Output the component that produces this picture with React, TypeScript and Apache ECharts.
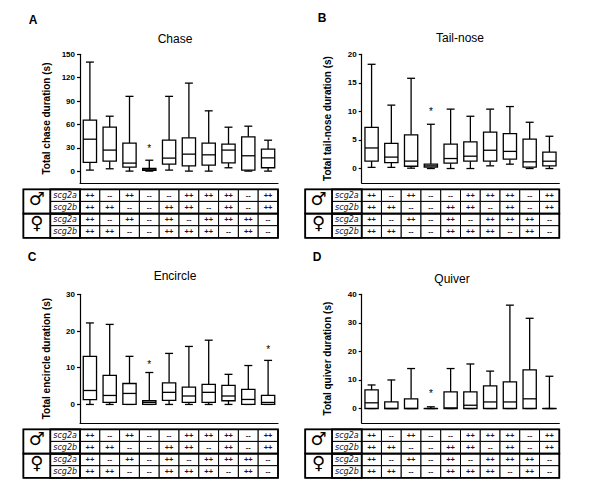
import { useEffect, useRef } from 'react';
import * as echarts from 'echarts';

// 10 genotype groups, order as in the table under each panel
const groups = ['g1', 'g2', 'g3', 'g4', 'g5', 'g6', 'g7', 'g8', 'g9', 'g10'];

// box values: [min, q1, median, q3, max]
const chaseBoxes = [
  [1.3, 11.1, 41, 65.4, 140],
  [3, 12.8, 27, 56.4, 70.5],
  [0, 5.1, 10.3, 35.9, 96],
  [0, 0.9, 1.7, 3.4, 14],
  [1.3, 9, 16.7, 39.7, 96],
  [0, 6.8, 21.8, 42.7, 113],
  [0, 7.7, 20.9, 35.9, 77.4],
  [4.3, 10.7, 27, 34.6, 56.4],
  [0, 1.3, 19.7, 44, 57.7],
  [0, 4.3, 17, 28.2, 39.7],
];
const tailNoseBoxes = [
  [0.2, 1.3, 3.6, 7.2, 18.25],
  [0.2, 1.05, 2.0, 4.4, 11.1],
  [0.06, 0.4, 1.3, 5.9, 15.8],
  [0, 0.23, 0.47, 0.76, 7.75],
  [0, 0.93, 1.75, 4.26, 10.4],
  [0, 1.28, 2.16, 4.66, 9.15],
  [0.47, 1.28, 3.2, 6.36, 10.4],
  [0.76, 1.63, 3.0, 6.1, 10.85],
  [0, 0.23, 1.17, 5.13, 8.1],
  [0, 0.47, 1.28, 2.86, 5.65],
];
const encircleBoxes = [
  [0, 1.3, 3.8, 13.1, 22.2],
  [0, 0.55, 2.45, 7.9, 21.8],
  [0, 0, 3.0, 5.7, 13.1],
  [0, 0, 0.55, 1.0, 8.7],
  [0, 1.1, 3.3, 5.9, 13.9],
  [0, 0.55, 2.3, 4.7, 15.8],
  [0, 0.55, 3.3, 5.45, 17.5],
  [0, 1.0, 2.3, 5.2, 8.2],
  [0, 0, 1.36, 4.1, 10.6],
  [0, 0, 0.55, 2.45, 12],
];
const quiverBoxes = [
  [0, 0, 2.0, 6.5, 8.25],
  [0, 0, 0, 2.3, 10.0],
  [0, 0, 0, 3.4, 14.0],
  [0, 0, 0, 0, 0.6],
  [0, 0, 0.2, 5.8, 14.0],
  [0, 0, 1.15, 5.8, 15.6],
  [0, 0, 2.3, 7.9, 13.1],
  [0, 0, 2.3, 9.3, 36.2],
  [0, 0, 3.4, 13.5, 31.6],
  [0, 0, 0, 0, 11.3],
];

// significance marks: [group index, value]
const chaseStars = [[3, 31]];
const tailNoseStars = [[3, 10.4]];
const encircleStars = [[3, 11.5], [9, 15.5]];
const quiverStars = [[3, 5.8]];

const chaseTicks = [0, 30, 60, 90, 120, 150];
const tailNoseTicks = [0, 5, 10, 15, 20];
const encircleTicks = [0, 10, 20, 30];
const quiverTicks = [0, 10, 20, 30, 40];

// genotype table
const sexSymbols = ['♂', '♀'];
const genes = ['scg2a', 'scg2b'];
const maleScg2a = ['++', '--', '++', '--', '--', '++', '++', '++', '--', '++'];
const maleScg2b = ['++', '++', '--', '--', '++', '++', '--', '++', '--', '++'];
const femaleScg2a = ['++', '--', '++', '--', '++', '--', '++', '++', '++', '--'];
const femaleScg2b = ['++', '++', '--', '--', '++', '++', '++', '--', '++', '--'];

const FONT = 'Liberation Sans';
const SYM_X0 = -2.86;
const GENE_X0 = -1.5;

const panels = [
  { letter: 'A', lx: 33, ly: 20, title: 'Chase', tx: 175, ty: 39, name: 'Total chase duration (s)',
    left: 80, top: 54.3, width: 198, min: -15, max: 150, ticks: chaseTicks, boxes: chaseBoxes, stars: chaseStars },
  { letter: 'B', lx: 322, ly: 18, title: 'Tail-nose', tx: 460, ty: 38, name: 'Total tail-nose duration (s)',
    left: 361.7, top: 54.3, width: 197.6, min: -2.5, max: 20, ticks: tailNoseTicks, boxes: tailNoseBoxes, stars: tailNoseStars },
  { letter: 'C', lx: 32, ly: 257, title: 'Encircle', tx: 175, ty: 276, name: 'Total encircle duration (s)',
    left: 80, top: 294.3, width: 198, min: -5, max: 30, ticks: encircleTicks, boxes: encircleBoxes, stars: encircleStars },
  { letter: 'D', lx: 317, ly: 257, title: 'Quiver', tx: 452, ty: 279, name: 'Total quiver duration (s)',
    left: 361.7, top: 294.3, width: 197.6, min: -5, max: 40, ticks: quiverTicks, boxes: quiverBoxes, stars: quiverStars },
];

type Cell = { x0: number; x1: number; y0: number; y1: number; text: string; kind: string };

function buildTable(): Cell[] {
  const rows = [maleScg2a, maleScg2b, femaleScg2a, femaleScg2b];
  const cells: Cell[] = [];
  rows.forEach((row, r) => {
    row.forEach((t, c) => cells.push({ x0: c, x1: c + 1, y0: r, y1: r + 1, text: t, kind: 'cell' }));
    cells.push({ x0: GENE_X0, x1: 0, y0: r, y1: r + 1, text: genes[r % 2], kind: 'gene' });
  });
  sexSymbols.forEach((s, k) => {
    cells.push({ x0: SYM_X0, x1: GENE_X0, y0: k * 2, y1: k * 2 + 2, text: s, kind: 'sex' });
  });
  // thicker frames
  [0, 2].forEach((r) => {
    cells.push({ x0: SYM_X0, x1: 10, y0: r, y1: r + 2, text: '', kind: 'frame' });
    cells.push({ x0: GENE_X0, x1: 0, y0: r, y1: r + 2, text: '', kind: 'frame' });
  });
  return cells;
}

const tableCells = buildTable();

function boxRender(params: any, api: any) {
  const i = api.value(0);
  const lo = api.coord([i, api.value(1)])[1];
  const q1 = api.coord([i, api.value(2)])[1];
  const med = api.coord([i, api.value(3)]);
  const q3 = api.coord([i, api.value(4)])[1];
  const hi = api.coord([i, api.value(5)])[1];
  const cx = med[0];
  const bw = api.size([1, 0])[0] * 0.67;
  const cw = bw * 0.6;
  const st = { stroke: '#000', lineWidth: 1.3, fill: 'none' };
  return {
    type: 'group',
    children: [
      { type: 'line', shape: { x1: cx, y1: hi, x2: cx, y2: q3 }, style: st },
      { type: 'line', shape: { x1: cx, y1: q1, x2: cx, y2: lo }, style: st },
      { type: 'line', shape: { x1: cx - cw / 2, y1: hi, x2: cx + cw / 2, y2: hi }, style: st },
      { type: 'line', shape: { x1: cx - cw / 2, y1: lo, x2: cx + cw / 2, y2: lo }, style: st },
      { type: 'rect', shape: { x: cx - bw / 2, y: q3, width: bw, height: Math.max(q1 - q3, 0.01) },
        style: { fill: '#fff', stroke: '#000', lineWidth: 1.3 } },
      { type: 'line', shape: { x1: cx - bw / 2, y1: med[1], x2: cx + bw / 2, y2: med[1] }, style: st },
    ],
  };
}

function starRender(params: any, api: any) {
  const p = api.coord([api.value(0), api.value(1)]);
  return {
    type: 'text', x: p[0], y: p[1] + 2,
    style: { text: '*', fill: '#000', fontSize: 10, fontFamily: FONT, align: 'center', verticalAlign: 'middle' },
  };
}

function tableRender(params: any, api: any) {
  const d = tableCells[params.dataIndex];
  const p0 = api.coord([api.value(0), api.value(1)]);
  const p1 = api.coord([api.value(2), api.value(3)]);
  const w = p1[0] - p0[0];
  const h = p1[1] - p0[1];
  if (d.kind === 'frame') {
    return { type: 'rect', z2: 10, shape: { x: p0[0], y: p0[1], width: w, height: h },
      style: { fill: 'none', stroke: '#000', lineWidth: 1.8 } };
  }
  let ts: any = { fontSize: 7.5, fontFamily: FONT, fontWeight: 'bold', fill: '#2a0a2a' };
  let dy = 0;
  if (d.kind === 'gene') ts = { fontSize: 8, fontFamily: 'DejaVu Sans', fontStyle: 'italic', fill: '#111' };
  if (d.kind === 'sex') { ts = { fontSize: 18, fontFamily: 'DejaVu Sans', fill: '#000' }; dy = -3; }
  return {
    type: 'group',
    children: [
      { type: 'rect', shape: { x: p0[0], y: p0[1], width: w, height: h },
        style: { fill: '#fff', stroke: '#000', lineWidth: 1 } },
      { type: 'text', x: p0[0] + w / 2, y: p0[1] + h / 2 + dy,
        style: { text: d.text, align: 'center', verticalAlign: 'middle', ...ts } },
    ],
  };
}

export default function App() {
  const chartRef = useRef<HTMLDivElement>(null);

  useEffect(() => {
    document.body.style.margin = '0';
    if (!chartRef.current) return;
    const chart = echarts.init(chartRef.current, null, { renderer: 'svg' });

    const PLOT_H = 128.5;
    const grids: any[] = [];
    const xAxes: any[] = [];
    const yAxes: any[] = [];
    const series: any[] = [];
    const graphic: any[] = [];
    const axisStyle = { color: '#000', width: 1.2 };

    panels.forEach((p, i) => {
      grids.push({ left: p.left, top: p.top, width: p.width, height: PLOT_H });
      xAxes.push({
        gridIndex: i, type: 'category', data: groups, boundaryGap: true,
        axisLine: { onZero: false, lineStyle: axisStyle },
        axisTick: { alignWithLabel: true, length: 3, lineStyle: axisStyle },
        axisLabel: { show: false }, splitLine: { show: false },
      });
      yAxes.push({
        gridIndex: i, type: 'value', min: p.min, max: p.max,
        name: p.name, nameLocation: 'middle', nameGap: 29,
        nameTextStyle: { fontFamily: FONT, fontWeight: 'bold', fontSize: 10, color: '#000' },
        axisLine: { show: true, onZero: false, lineStyle: axisStyle },
        axisTick: { show: true, length: 3, customValues: p.ticks, lineStyle: axisStyle },
        axisLabel: { customValues: p.ticks, fontFamily: FONT, fontWeight: 'bold', fontSize: 8, color: '#000', margin: 5 },
        splitLine: { show: false },
      });
      series.push({
        type: 'custom', xAxisIndex: i, yAxisIndex: i, clip: false,
        data: p.boxes.map((b, k) => [k, ...b]),
        encode: { x: 0, y: [1, 2, 3, 4, 5] },
        renderItem: boxRender,
      });
      series.push({
        type: 'custom', xAxisIndex: i, yAxisIndex: i, clip: false,
        data: p.stars, encode: { x: 0, y: 1 },
        renderItem: starRender,
      });
      graphic.push({ type: 'text', x: p.lx, y: p.ly,
        style: { text: p.letter, fontFamily: FONT, fontWeight: 'bold', fontSize: 12, fill: '#000', align: 'center', verticalAlign: 'middle' } });
      graphic.push({ type: 'text', x: p.tx, y: p.ty,
        style: { text: p.title, fontFamily: FONT, fontSize: 12, fill: '#000', align: 'center', verticalAlign: 'middle' } });
    });

    panels.forEach((p, i) => {
      const unit = p.width / 10;
      const g = 4 + i;
      grids.push({ left: p.left + SYM_X0 * unit, top: p.top + 135, width: (10 - SYM_X0) * unit, height: 48.5 });
      xAxes.push({ gridIndex: g, type: 'value', min: SYM_X0, max: 10, show: false });
      yAxes.push({ gridIndex: g, type: 'value', min: 0, max: 4, inverse: true, show: false });
      series.push({
        type: 'custom', xAxisIndex: g, yAxisIndex: g, clip: false,
        data: tableCells.map((d) => [d.x0, d.y0, d.x1, d.y1]),
        encode: { x: [0, 2], y: [1, 3] },
        renderItem: tableRender,
      });
    });

    chart.setOption({
      animation: false,
      grid: grids,
      xAxis: xAxes,
      yAxis: yAxes,
      series,
      graphic,
    });

    return () => chart.dispose();
  }, []);

  return <div ref={chartRef} style={{ width: 613, height: 502, background: '#fff' }} />;
}
